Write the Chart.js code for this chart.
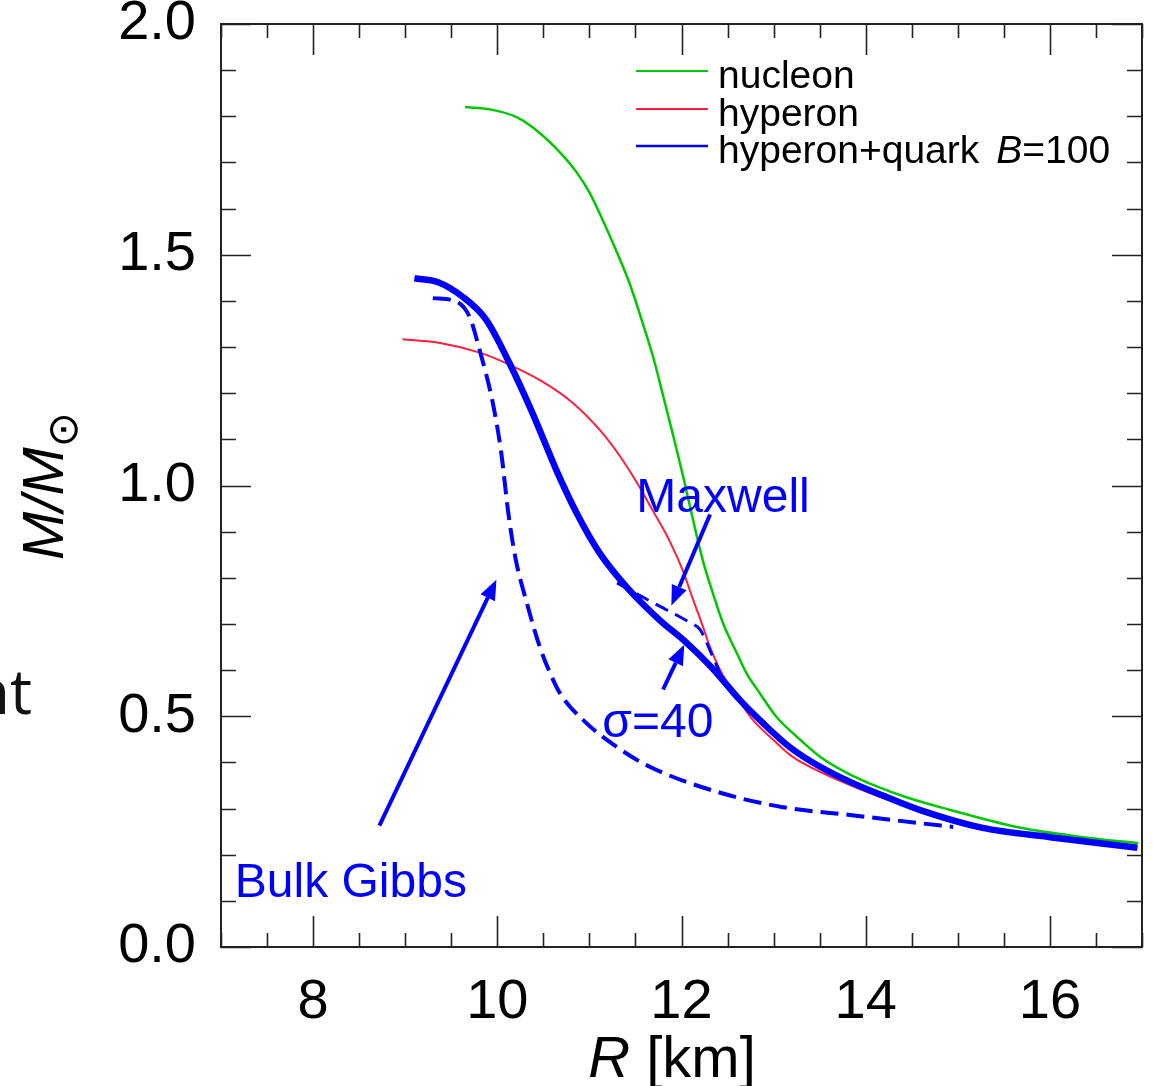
<!DOCTYPE html>
<html>
<head>
<meta charset="utf-8">
<script src="https://cdn.jsdelivr.net/npm/chart.js@4.4.0/dist/chart.umd.min.js"></script>
<style>
  html, body { margin: 0; padding: 0; background: #fff; }
  canvas { display: block; }
</style>
</head>
<body>
<canvas id="grafico" width="1153" height="1086"></canvas>
<script>
// valores: R [km] e M/Msol
const rNucleon = [9.65, 9.92, 10.21, 10.46, 10.68, 10.86, 11.00, 11.14, 11.30, 11.44, 11.58, 11.69, 11.80, 11.91, 12.02, 12.12, 12.23, 12.34, 12.45, 12.60, 12.71, 12.85, 13.03, 13.25, 13.50, 13.79, 14.12, 14.45, 14.92, 15.64, 16.36, 16.96];
const mNucleon = [1.820, 1.815, 1.798, 1.764, 1.722, 1.679, 1.635, 1.577, 1.505, 1.436, 1.351, 1.280, 1.195, 1.108, 1.018, 0.930, 0.839, 0.767, 0.702, 0.637, 0.592, 0.550, 0.499, 0.456, 0.413, 0.378, 0.348, 0.324, 0.297, 0.260, 0.238, 0.225];

const rHyperon = [8.97, 9.38, 9.81, 10.13, 10.49, 10.82, 11.11, 11.33, 11.51, 11.69, 11.87, 12.02, 12.12, 12.23, 12.30, 12.42, 12.60, 12.77, 12.99, 13.20, 13.55, 13.90, 14.40, 15.27, 16.00, 16.95];
const mHyperon = [1.317, 1.309, 1.288, 1.262, 1.225, 1.179, 1.121, 1.064, 1.008, 0.945, 0.880, 0.813, 0.756, 0.696, 0.655, 0.600, 0.542, 0.493, 0.450, 0.413, 0.375, 0.345, 0.308, 0.258, 0.238, 0.215];

const rQuark = [9.10, 9.35, 9.63, 9.88, 10.13, 10.38, 10.64, 10.86, 11.11, 11.40, 11.76, 12.05, 12.34, 12.63, 12.88, 13.17, 13.50, 13.86, 14.20, 14.60, 15.27, 16.00, 16.95];
const mQuark = [1.449, 1.441, 1.408, 1.359, 1.266, 1.158, 1.034, 0.941, 0.854, 0.781, 0.709, 0.660, 0.603, 0.536, 0.486, 0.434, 0.391, 0.355, 0.327, 0.296, 0.258, 0.238, 0.215];

const rGibbs = [9.30, 9.56, 9.70, 9.81, 9.95, 10.04, 10.12, 10.20, 10.32, 10.46, 10.57, 10.68, 10.93, 11.30, 11.66, 12.39, 13.10, 13.83, 14.56, 14.95];
const mGibbs = [1.406, 1.398, 1.365, 1.292, 1.180, 1.075, 0.940, 0.840, 0.746, 0.651, 0.595, 0.550, 0.492, 0.433, 0.390, 0.336, 0.303, 0.286, 0.269, 0.260];

const rMaxwell = [11.30, 11.69, 12.09, 12.20, 12.34, 12.45];
const mMaxwell = [0.789, 0.746, 0.703, 0.688, 0.629, 0.579];

const ticksX = [8, 10, 12, 14, 16];
const ticksY = [0.0, 0.5, 1.0, 1.5, 2.0];

// setas e rótulos em unidades dos eixos
const arrows = [
    { from: [8.72, 0.263], to: [9.99, 0.796] },
    { from: [12.31, 0.937], to: [11.89, 0.740] },
    { from: [11.80, 0.558], to: [12.03, 0.655] }
];
const notes = [
    { text: 'Maxwell', r: 11.51, m: 0.943 },
    { text: 'σ=40', r: 11.14, m: 0.456 },
    { text: 'Bulk Gibbs', r: 7.15, m: 0.109 }
];

const BLUE = '#0000ff', RED = '#ff1f3d', GREEN = '#00c800';
const FONT = "'Liberation Sans', Arial, Helvetica, sans-serif";

const pts = (xs, ys) => xs.map((x, i) => ({ x: x, y: ys[i] }));
const near = (list, v) => list.some(t => Math.abs(t - v) < 1e-6);

function drawArrow(ctx, x0, y0, x1, y1) {
    const a = Math.atan2(y1 - y0, x1 - x0);
    const len = 20, half = 8;
    const bx = x1 - len * Math.cos(a), by = y1 - len * Math.sin(a);
    ctx.beginPath();
    ctx.moveTo(x0, y0);
    ctx.lineTo(bx, by);
    ctx.stroke();
    ctx.beginPath();
    ctx.moveTo(x1, y1);
    ctx.lineTo(bx + half * Math.sin(a), by - half * Math.cos(a));
    ctx.lineTo(bx - half * Math.sin(a), by + half * Math.cos(a));
    ctx.closePath();
    ctx.fill();
}

// moldura, ticks para dentro, títulos, legenda e anotações
const idlPlugin = {
    id: 'idl',
    beforeDatasetsDraw(chart) {
        const { ctx, chartArea: a, scales: { x, y } } = chart;
        ctx.save();
        ctx.strokeStyle = '#222';
        ctx.lineWidth = 2;
        ctx.strokeRect(a.left, a.top, a.right - a.left, a.bottom - a.top);
        ctx.lineWidth = 1.6;
        ctx.beginPath();
        x.ticks.forEach(t => {
            const px = Math.round(x.getPixelForValue(t.value)) + 0.5;
            const len = near(ticksX, t.value) ? 31 : 14;
            ctx.moveTo(px, a.bottom); ctx.lineTo(px, a.bottom - len);
            ctx.moveTo(px, a.top); ctx.lineTo(px, a.top + len);
        });
        y.ticks.forEach(t => {
            const py = Math.round(y.getPixelForValue(t.value)) + 0.5;
            const len = near(ticksY, t.value) ? 30 : 15;
            ctx.moveTo(a.left, py); ctx.lineTo(a.left + len, py);
            ctx.moveTo(a.right, py); ctx.lineTo(a.right - len, py);
        });
        ctx.stroke();
        ctx.restore();
    },
    afterDatasetsDraw(chart) {
        const { ctx, scales: { x, y } } = chart;
        ctx.save();

        // setas
        ctx.strokeStyle = BLUE;
        ctx.fillStyle = BLUE;
        ctx.lineWidth = 4;
        arrows.forEach(s => {
            drawArrow(ctx,
                x.getPixelForValue(s.from[0]), y.getPixelForValue(s.from[1]),
                x.getPixelForValue(s.to[0]), y.getPixelForValue(s.to[1]));
        });

        // rótulos
        ctx.font = '48px ' + FONT;
        ctx.textBaseline = 'alphabetic';
        ctx.textAlign = 'left';
        notes.forEach(n => {
            ctx.fillText(n.text, x.getPixelForValue(n.r), y.getPixelForValue(n.m));
        });

        // legenda
        const leg = [
            { c: GREEN, w: 2, y: 71, parts: [['nucleon', '']] },
            { c: RED, w: 2, y: 109, parts: [['hyperon', '']] },
            { c: BLUE, w: 2.5, y: 146, parts: [['hyperon+quark', ''], ['B', 'italic '], ['=100', '']] }
        ];
        ctx.fillStyle = '#000';
        leg.forEach(l => {
            ctx.strokeStyle = l.c;
            ctx.lineWidth = l.w;
            ctx.beginPath();
            ctx.moveTo(636, l.y); ctx.lineTo(708, l.y);
            ctx.stroke();
            let tx = 718;
            l.parts.forEach((p, i) => {
                ctx.font = p[1] + '39px ' + FONT;
                ctx.fillText(p[0], tx, l.y + 17);
                tx += ctx.measureText(p[0]).width + (i === 0 && l.parts.length > 1 ? 17 : 0);
            });
        });

        // título do eixo x: R [km]
        ctx.fillStyle = '#000';
        ctx.font = 'italic 58px ' + FONT;
        const wR = ctx.measureText('R').width;
        ctx.font = '58px ' + FONT;
        const wKm = ctx.measureText(' [km]').width;
        let sx = 672 - (wR + wKm) / 2;
        ctx.font = 'italic 58px ' + FONT;
        ctx.fillText('R', sx, 1077);
        ctx.font = '58px ' + FONT;
        ctx.fillText(' [km]', sx + wR, 1077);

        // título do eixo y: M/M⊙
        ctx.translate(63, 486);
        ctx.rotate(-Math.PI / 2);
        ctx.font = 'italic 58px ' + FONT;
        const wM = ctx.measureText('M/M').width;
        ctx.font = "42px 'DejaVu Sans'";
        const wSun = ctx.measureText('⊙').width;
        const start = -(wM + wSun) / 2;
        ctx.font = 'italic 58px ' + FONT;
        ctx.fillText('M/M', start, 0);
        ctx.font = "42px 'DejaVu Sans'";
        ctx.fillText('⊙', start + wM, 14);
        ctx.restore();

        // resto de texto do slide à esquerda
        ctx.save();
        ctx.fillStyle = '#111';
        ctx.font = "62px 'Open Sans', 'Noto Sans', sans-serif";
        ctx.textAlign = 'right';
        ctx.fillText('nt', 32, 714);
        ctx.restore();
    }
};

const noPad = s => { s.paddingTop = 0; s.paddingBottom = 0; s.paddingLeft = 0; s.paddingRight = 0; };

new Chart(document.getElementById('grafico').getContext('2d'), {
    type: 'scatter',
    data: {
        datasets: [
            { label: 'hyperon+quark B=100', data: pts(rQuark, mQuark), borderColor: BLUE, borderWidth: 6.5 },
            { label: 'Bulk Gibbs', data: pts(rGibbs, mGibbs), borderColor: BLUE, borderWidth: 4, borderDash: [18, 8] },
            { label: 'Maxwell', data: pts(rMaxwell, mMaxwell), borderColor: BLUE, borderWidth: 3, borderDash: [14, 8] },
            { label: 'hyperon', data: pts(rHyperon, mHyperon), borderColor: RED, borderWidth: 2 },
            { label: 'nucleon', data: pts(rNucleon, mNucleon), borderColor: GREEN, borderWidth: 2.5 }
        ].map(d => Object.assign(d, { showLine: true, pointRadius: 0, cubicInterpolationMode: 'monotone', fill: false }))
    },
    options: {
        responsive: false,
        animation: false,
        events: [],
        layout: { padding: { top: 24, right: 11, left: 0, bottom: 0 } },
        plugins: { legend: { display: false }, tooltip: { enabled: false } },
        scales: {
            x: {
                type: 'linear',
                min: 7, max: 17,
                grid: { display: false, drawTicks: false },
                border: { display: false },
                ticks: {
                    stepSize: 0.5,
                    autoSkip: false,
                    maxRotation: 0,
                    padding: 22,
                    color: '#000',
                    font: { family: FONT, size: 56 },
                    callback: v => near(ticksX, v) ? String(v) : ''
                },
                afterFit: s => { s.height = 139; noPad(s); }
            },
            y: {
                min: 0, max: 2,
                grid: { display: false, drawTicks: false },
                border: { display: false },
                ticks: {
                    stepSize: 0.1,
                    autoSkip: false,
                    padding: 25,
                    color: '#000',
                    font: { family: FONT, size: 56 },
                    callback: v => near(ticksY, v) ? v.toFixed(1) : ''
                },
                afterFit: s => { s.width = 221; noPad(s); }
            }
        }
    },
    plugins: [idlPlugin]
});
</script>
</body>
</html>
